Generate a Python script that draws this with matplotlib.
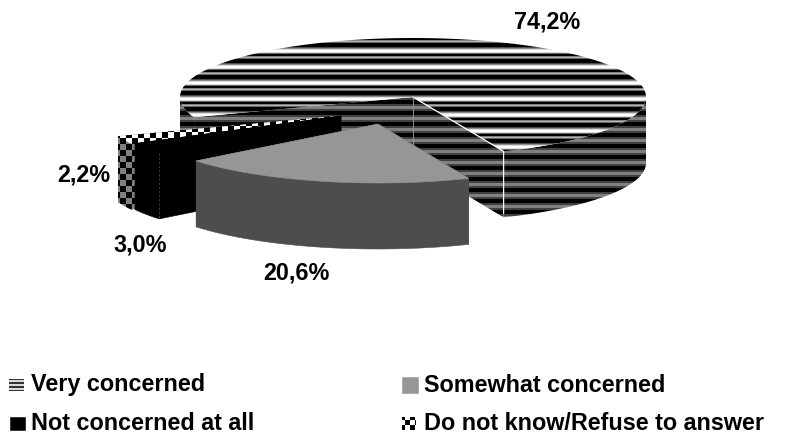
import numpy as np
import matplotlib
matplotlib.use("Agg")
import matplotlib.pyplot as plt
from matplotlib.patches import Polygon

plt.rcParams["font.family"] = ["Liberation Sans", "DejaVu Sans"]

categories = ["Very concerned", "Somewhat concerned", "Not concerned at all", "Do not know/Refuse to answer"]
shares = [74.2, 20.6, 3.0, 2.2]
value_labels = ["74,2%", "20,6%", "3,0%", "2,2%"]

# pie geometry, in canvas pixels
cx, cy = 413, 97
rx, ry = 233, 59
depth = 66
first_angle = 160
# how far each slice is pulled away from the pie centre
explode = [(0, 0), (-35, 27), (-72, 19), (-76, 19)]
label_pos = [(547, 22), (296, 273), (140, 245), (84, 175)]

K, W = 0.0, 1.0
top_rows = [0.55, 0.85, W, W, 0.85, 0.4, K, K, 0.5, 0.7, 0.4, K, K, K, K, 0.3]
side_rows = [0.25, K, K, K, K, 0.25, 0.25, 0.5, 0.5, 0.5, 0.25]
swatch_rows = [0.85, 0.85, 0.2, 0.2]

fig = plt.figure(figsize=(7.85, 4.34), dpi=100)
ax = fig.add_axes([0, 0, 1, 1])
ax.set_xlim(0, 785)
ax.set_ylim(434, 0)
ax.axis("off")
order = [0]


def next_z():
    order[0] += 1
    return order[0]


def stripes(rows):
    return np.tile(np.array(rows)[:, None], (434 // len(rows) + 1, 785))[:434]


def checks(a, b, size=6):
    yy, xx = np.mgrid[0:434, 0:785]
    return np.where((xx // size + yy // size) % 2 == 0, a, b)


def fill(points, texture):
    # texture is either a flat colour or a grey image clipped to the polygon
    z = next_z()
    if isinstance(texture, str):
        ax.add_patch(Polygon(points, closed=True, fc=texture, ec=texture, lw=0.4, zorder=z))
        return
    im = ax.imshow(texture, cmap="gray", vmin=0, vmax=1, extent=(0, 785, 434, 0),
                   aspect="auto", interpolation="bilinear", zorder=z)
    clip = Polygon(points, closed=True, transform=ax.transData)
    im.set_clip_path(clip)


def rim(x0, y0, t):
    return x0 + rx * np.cos(np.radians(t)), y0 + ry * np.sin(np.radians(t))


def draw_slice(t0, t1, off, top, side):
    x0, y0 = cx + off[0], cy + off[1]
    ts = np.linspace(t0, t1, 200)
    px, py = rim(x0, y0, ts)
    # flat cut faces first, then the rounded wall, then the top
    for t in (t1, t0):
        ex, ey = rim(x0, y0, t)
        fill([(x0, y0), (ex, ey), (ex, ey + depth), (x0, y0 + depth)], side)
    for lo, hi in ((0, 180), (360, 540)):
        a, b = max(t0, lo), min(t1, hi)
        if a < b:
            tw = np.linspace(a, b, 120)
            wx, wy = rim(x0, y0, tw)
            fill(list(zip(wx, wy)) + list(zip(wx[::-1], wy[::-1] + depth)), side)
    fill([(x0, y0)] + list(zip(px, py)), top)
    return x0, y0


sweeps = np.array(shares) / sum(shares) * 360
starts = first_angle + np.concatenate(([0], np.cumsum(sweeps)[:-1]))
ends = starts + sweeps

looks = [
    (stripes(top_rows), stripes(side_rows)),
    ("#969696", "#4d4d4d"),
    ("#000000", "#000000"),
    (checks(W, K, 6), checks(0.5, K, 6)),
]

# back to front: large slice, checks, black, grey
for i in [0, 3, 2, 1]:
    x0, y0 = draw_slice(starts[i], ends[i], explode[i], looks[i][0], looks[i][1])
    if i == 0:
        ex, ey = rim(x0, y0, ends[i])
        z = next_z()
        ax.plot([x0, ex, ex], [y0, ey, ey + depth - 4], color="white", lw=0.9, zorder=z)
        ax.plot([x0, x0], [y0, y0 + 50], color="#a0a0a0", lw=0.6, zorder=z)
    if i == 2:
        ex, ey = rim(x0, y0, starts[i])
        ax.plot([ex, ex], [ey, ey + depth], color="#555555", lw=0.5, ls=(0, (3, 3)), zorder=next_z())

for (lx, ly), txt in zip(label_pos, value_labels):
    ax.text(lx, ly, txt, ha="center", va="center", fontsize=16.8, fontweight="bold", color="black", zorder=900)

# legend
legend_x = [(9, 31), (402, 424), (10, 31), (402, 424)]
legend_y = [385, 385, 423, 423]
swatch = [stripes(swatch_rows), "#969696", "#000000", checks(W, K, 5)]
swatch_h = [6, 8, 6.5, 6.5]
swatch_w = [15, 16, 15, 14]
for i, name in enumerate(categories):
    sx, tx = legend_x[i]
    y = legend_y[i]
    h, w = swatch_h[i], swatch_w[i]
    fill([(sx, y - h), (sx + w, y - h), (sx + w, y + h), (sx, y + h)], swatch[i])
    ax.text(tx, y, name, ha="left", va="center", fontsize=16.8, fontweight="bold", color="black", zorder=900)

fig.savefig("out.png", dpi=100)
